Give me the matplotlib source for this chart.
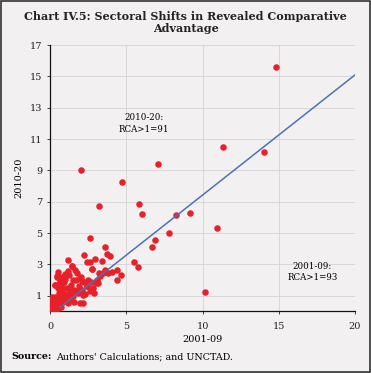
import numpy as np
import matplotlib
matplotlib.use('Agg')
import matplotlib.pyplot as plt
from matplotlib.patches import Rectangle

# RCA per sector, 2001-09 (x) vs 2010-20 (y)
rca_0109 = [0.05, 0.10, 0.15, 0.20, 0.25, 0.30, 0.10, 0.35, 0.40, 0.05, 0.20, 0.30, 0.45, 0.50,
            0.55, 0.15, 0.60, 0.40, 0.25, 0.12, 0.35, 0.50, 0.65, 0.70, 0.08, 0.02, 0.03, 0.28,
            0.45, 0.18,
            0.70, 0.80, 0.90, 1.00, 1.10, 0.60, 0.75, 0.90, 1.20, 1.30, 1.40, 1.50, 1.60, 1.70,
            1.80, 1.00, 0.50, 0.45, 0.65, 1.25, 1.35, 1.55, 1.90, 2.00, 2.10, 2.20, 2.30, 2.40,
            2.50, 1.15, 0.85, 1.05, 2.60, 2.70, 2.80, 2.90, 3.00, 0.30, 0.55, 1.46, 1.63, 1.16,
            0.44, 0.65, 0.33, 1.74, 1.96, 1.52, 2.07, 1.74, 2.18, 2.40, 1.31, 1.96, 2.14, 0.50,
            1.42, 0.95, 1.20, 0.80,
            2.61, 3.62, 3.70, 3.92, 2.22, 2.40, 2.61, 3.38, 2.72, 3.44, 3.81, 4.03, 4.36, 4.62,
            4.42, 5.51, 5.77, 3.18, 3.27, 3.05, 3.16, 2.94, 2.77, 3.60,
            14.84, 14.05, 11.37, 7.08, 2.03, 4.73, 3.20, 5.80, 6.03, 8.28, 9.15, 7.80, 6.86,
            6.71, 10.94, 10.13]
rca_1020 = [0.10, 0.20, 0.05, 0.30, 0.15, 0.40, 0.50, 0.20, 0.60, 0.35, 0.70, 0.80, 0.35, 0.50,
            0.25, 0.90, 0.70, 0.10, 0.55, 0.65, 0.95, 0.85, 0.45, 0.30, 0.80, 0.50, 0.20, 0.28,
            0.75, 0.42,
            1.00, 1.30, 0.80, 1.10, 1.50, 1.20, 1.60, 1.90, 0.90, 1.30, 1.70, 1.00, 1.40, 2.00,
            1.20, 2.10, 1.50, 2.20, 1.90, 2.30, 0.70, 0.60, 1.60, 2.20, 1.40, 1.90, 1.10, 1.60,
            2.00, 0.55, 0.60, 0.75, 1.30, 1.90, 1.50, 1.20, 1.80, 1.70, 2.50, 2.88, 2.67, 3.27,
            2.24, 1.92, 1.71, 2.46, 2.14, 2.03, 1.92, 1.28, 1.06, 1.60, 1.06, 0.54, 0.54, 2.20,
            2.93, 2.40, 2.60, 2.20,
            4.66, 4.13, 3.68, 3.57, 3.63, 3.17, 3.17, 3.20, 2.71, 2.46, 2.46, 2.52, 2.67, 2.31,
            2.03, 3.17, 2.82, 2.46, 2.24, 2.03, 1.82, 3.38, 2.71, 2.63,
            15.60, 10.20, 10.50, 9.40, 9.05, 8.28, 6.70, 6.89, 6.25, 6.16, 6.27, 4.98, 4.53,
            4.10, 5.35, 1.21]

# fitted trend line end points
trend_x = [0.65, 20]
trend_y = [0.26, 15.1]

x_ticks = [0, 5, 10, 15, 20]
y_ticks = [1, 3, 5, 7, 9, 11, 13, 15, 17]

bg = '#f3f0f1'
plt.rcParams['font.family'] = ['DejaVu Serif']

fig = plt.figure(figsize=(3.71, 3.73), dpi=100, facecolor=bg)
ax = fig.add_axes([0.135, 0.165, 0.822, 0.714], facecolor=bg)

ax.grid(True, color='#d6d3d4', linewidth=0.6)
ax.set_axisbelow(True)
ax.scatter(rca_0109, rca_1020, s=22, color='#e8202a', zorder=3, linewidths=0)
ax.plot(trend_x, trend_y, color='#4a72b8', linewidth=1.1, zorder=4)

ax.set_xlim(0, 20)
ax.set_ylim(0, 17)
ax.set_xticks(x_ticks)
ax.set_yticks(y_ticks)
ax.tick_params(labelsize=7, length=2.5, width=0.6, colors='#222222')
ax.tick_params(axis='x', pad=5)
ax.tick_params(axis='y', pad=3)
for s in ['top', 'right']:
    ax.spines[s].set_visible(False)
for s in ['left', 'bottom']:
    ax.spines[s].set_linewidth(0.9)
    ax.spines[s].set_color('#111111')

ax.set_xlabel('2001-09', fontsize=7, labelpad=3)
ax.set_ylabel('2010-20', fontsize=7, labelpad=5)

ax.text(6.14, 12.0, '2010-20:\nRCA>1=91', fontsize=6.2, ha='center', va='center',
        linespacing=1.3)
ax.text(17.2, 2.52, '2001-09:\nRCA>1=93', fontsize=6.2, ha='center', va='center',
        linespacing=1.3)

fig.text(0.5, 0.94, 'Chart IV.5: Sectoral Shifts in Revealed Comparative\nAdvantage',
         fontsize=8, fontweight='bold', ha='center', va='center', linespacing=1.15,
         color='#222222')
fig.text(0.032, 0.043, 'Source:', fontsize=6.8, fontweight='bold', ha='left', va='center')
fig.text(0.152, 0.043, "Authors' Calculations; and UNCTAD.", fontsize=6.8, ha='left',
         va='center')

fig.patches.append(Rectangle((0.004, 0.004), 0.992, 0.992, transform=fig.transFigure,
                             fill=False, edgecolor='#333333', linewidth=1.2))

fig.savefig('out.png', dpi=100, facecolor=bg)
